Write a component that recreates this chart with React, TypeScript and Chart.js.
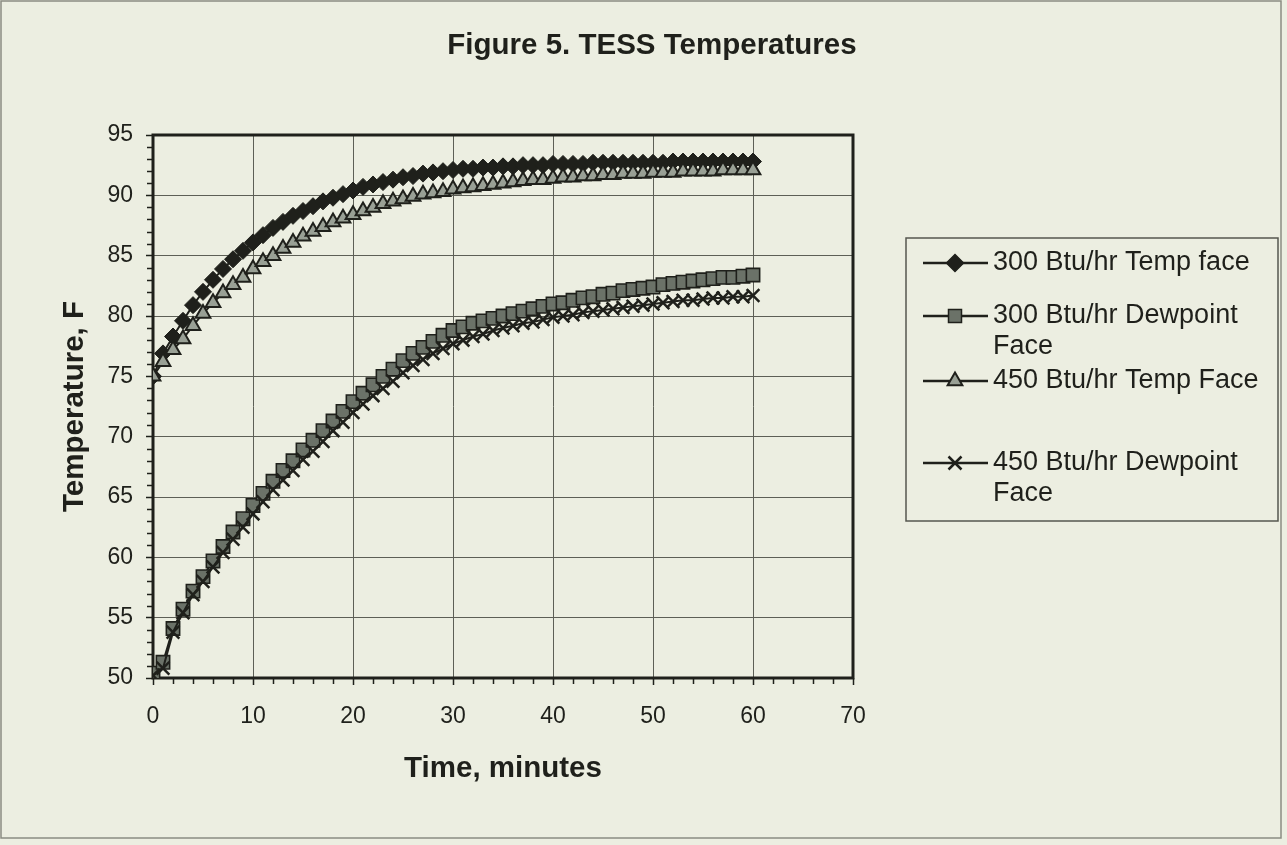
import React, { useEffect, useRef } from "react";
import { Chart, registerables } from "chart.js";

Chart.register(...registerables);

// ---------- data ----------
const minutes = [
  0, 1, 2, 3, 4, 5, 6, 7, 8, 9, 10, 11, 12, 13, 14, 15, 16, 17, 18, 19, 20,
  21, 22, 23, 24, 25, 26, 27, 28, 29, 30, 31, 32, 33, 34, 35, 36, 37, 38, 39, 40,
  41, 42, 43, 44, 45, 46, 47, 48, 49, 50, 51, 52, 53, 54, 55, 56, 57, 58, 59, 60,
];

const temp300 = [
  75.0, 76.9, 78.3, 79.6, 80.9, 82.0, 83.0, 83.9, 84.7, 85.4, 86.1,
  86.7, 87.3, 87.8, 88.3, 88.7, 89.1, 89.5, 89.8, 90.1, 90.4,
  90.7, 90.9, 91.1, 91.3, 91.5, 91.6, 91.8, 91.9, 92.0, 92.1,
  92.2, 92.2, 92.3, 92.3, 92.4, 92.4, 92.5, 92.5, 92.5, 92.6,
  92.6, 92.6, 92.6, 92.7, 92.7, 92.7, 92.7, 92.7, 92.7, 92.7,
  92.7, 92.8, 92.8, 92.8, 92.8, 92.8, 92.8, 92.8, 92.8, 92.8,
];

const dew300 = [
  50.4, 51.3, 54.1, 55.7, 57.2, 58.4, 59.7, 60.9, 62.1, 63.2, 64.3,
  65.3, 66.3, 67.2, 68.0, 68.9, 69.7, 70.5, 71.3, 72.1, 72.9,
  73.6, 74.3, 75.0, 75.6, 76.3, 76.9, 77.4, 77.9, 78.4, 78.8,
  79.1, 79.4, 79.6, 79.8, 80.0, 80.2, 80.4, 80.6, 80.8, 81.0,
  81.1, 81.3, 81.5, 81.6, 81.8, 81.9, 82.1, 82.2, 82.3, 82.4,
  82.6, 82.7, 82.8, 82.9, 83.0, 83.1, 83.2, 83.2, 83.3, 83.4,
];

const temp450 = [
  75.0, 76.2, 77.2, 78.1, 79.2, 80.2, 81.1, 81.9, 82.6, 83.2, 83.9,
  84.5, 85.0, 85.6, 86.1, 86.6, 87.0, 87.4, 87.8, 88.1, 88.4,
  88.7, 89.0, 89.3, 89.5, 89.7, 89.9, 90.1, 90.2, 90.3, 90.5,
  90.6, 90.7, 90.8, 90.9, 91.0, 91.1, 91.2, 91.3, 91.3, 91.4,
  91.5, 91.5, 91.6, 91.6, 91.7, 91.7, 91.8, 91.8, 91.8, 91.9,
  91.9, 91.9, 92.0, 92.0, 92.0, 92.0, 92.1, 92.1, 92.1, 92.1,
];

const dew450 = [
  50.2, 50.8, 53.8, 55.4, 56.9, 58.0, 59.2, 60.4, 61.5, 62.5, 63.6,
  64.6, 65.6, 66.4, 67.2, 68.1, 68.8, 69.6, 70.5, 71.2, 72.0,
  72.7, 73.4, 74.0, 74.6, 75.3, 75.9, 76.4, 76.9, 77.3, 77.7,
  78.0, 78.3, 78.5, 78.8, 79.0, 79.2, 79.4, 79.5, 79.7, 79.9,
  80.0, 80.1, 80.3, 80.4, 80.5, 80.6, 80.7, 80.8, 80.9, 81.0,
  81.1, 81.2, 81.3, 81.3, 81.4, 81.5, 81.5, 81.6, 81.6, 81.7,
];

const xTicks = [0, 10, 20, 30, 40, 50, 60, 70];
const yTicks = [50, 55, 60, 65, 70, 75, 80, 85, 90, 95];

const seriesNames = [
  ["300 Btu/hr Temp face"],
  ["300 Btu/hr Dewpoint", "Face"],
  ["450 Btu/hr Temp Face"],
  ["450 Btu/hr Dewpoint", "Face"],
];

const titleText = "Figure 5. TESS Temperatures";
const xTitle = "Time, minutes";
const yTitle = "Temperature, F";

// ---------- style ----------
const FONT = '"Liberation Sans", Arial, sans-serif';
const INK = "#1f201b";
const BG = "#eceee1";
const GRID = "#5d5f56";
const SQUARE_FILL = "#6b7268";
const TRI_FILL = "#99a095";

function drawMarker(ctx: CanvasRenderingContext2D, kind: number, x: number, y: number) {
  ctx.save();
  ctx.lineWidth = 1.5;
  ctx.strokeStyle = INK;
  ctx.beginPath();
  if (kind === 0) {
    const r = 8.5;
    ctx.moveTo(x, y - r);
    ctx.lineTo(x + r, y);
    ctx.lineTo(x, y + r);
    ctx.lineTo(x - r, y);
    ctx.closePath();
    ctx.fillStyle = INK;
    ctx.fill();
    ctx.stroke();
  } else if (kind === 1) {
    const h = 6.5;
    ctx.rect(x - h, y - h, 2 * h, 2 * h);
    ctx.fillStyle = SQUARE_FILL;
    ctx.fill();
    ctx.stroke();
  } else if (kind === 2) {
    const r = 8.5;
    ctx.lineWidth = 2;
    ctx.moveTo(x, y - r);
    ctx.lineTo(x + r * 0.866, y + r / 2);
    ctx.lineTo(x - r * 0.866, y + r / 2);
    ctx.closePath();
    ctx.fillStyle = TRI_FILL;
    ctx.fill();
    ctx.stroke();
  } else {
    const h = 6.5;
    ctx.lineWidth = 2.5;
    ctx.moveTo(x - h, y - h);
    ctx.lineTo(x + h, y + h);
    ctx.moveTo(x + h, y - h);
    ctx.lineTo(x - h, y + h);
    ctx.stroke();
  }
  ctx.restore();
}

const decorPlugin = {
  id: "decor",
  beforeDraw(chart: any) {
    const ctx = chart.ctx as CanvasRenderingContext2D;
    ctx.save();
    ctx.fillStyle = BG;
    ctx.fillRect(0, 0, chart.width, chart.height);
    ctx.strokeStyle = "#8a8c82";
    ctx.lineWidth = 1.5;
    ctx.strokeRect(1, 1, chart.width - 7, chart.height - 8);
    ctx.restore();
  },
  beforeDatasetsDraw(chart: any) {
    const ctx = chart.ctx as CanvasRenderingContext2D;
    const a = chart.chartArea;
    const xs = chart.scales.x;
    const ys = chart.scales.y;
    ctx.save();
    ctx.strokeStyle = INK;
    ctx.lineWidth = 1.5;
    ctx.beginPath();
    for (let v = 51; v < 95; v++) {
      if (v % 5 === 0) continue;
      const py = Math.round(ys.getPixelForValue(v)) + 0.5;
      ctx.moveTo(a.left - 6, py);
      ctx.lineTo(a.left, py);
    }
    for (let v = 2; v < 70; v += 2) {
      if (v % 10 === 0) continue;
      const px = Math.round(xs.getPixelForValue(v)) + 0.5;
      ctx.moveTo(px, a.bottom);
      ctx.lineTo(px, a.bottom + 6);
    }
    ctx.stroke();
    ctx.lineWidth = 3;
    ctx.strokeRect(a.left, a.top, a.right - a.left, a.bottom - a.top);
    ctx.restore();
  },
  afterDraw(chart: any) {
    const ctx = chart.ctx as CanvasRenderingContext2D;
    const a = chart.chartArea;
    ctx.save();
    ctx.fillStyle = INK;
    ctx.textAlign = "center";
    ctx.textBaseline = "middle";
    ctx.font = `bold 29.5px ${FONT}`;
    ctx.fillText(titleText, 652, 46);
    ctx.font = `bold 29.5px ${FONT}`;
    ctx.fillText(xTitle, (a.left + a.right) / 2, 769);
    ctx.save();
    ctx.translate(75, (a.top + a.bottom) / 2);
    ctx.rotate(-Math.PI / 2);
    ctx.fillText(yTitle, 0, 0);
    ctx.restore();

    // legend box
    ctx.strokeStyle = "#55574f";
    ctx.lineWidth = 1.5;
    ctx.strokeRect(906, 238, 372, 283);
    const rowY = [263, 316, 381, 463];
    ctx.font = `27px ${FONT}`;
    ctx.textAlign = "left";
    seriesNames.forEach((lines, i) => {
      const y = rowY[i];
      ctx.strokeStyle = INK;
      ctx.lineWidth = 2.5;
      ctx.beginPath();
      ctx.moveTo(923, y);
      ctx.lineTo(988, y);
      ctx.stroke();
      drawMarker(ctx, i, 955, y);
      ctx.fillStyle = INK;
      lines.forEach((t, j) => ctx.fillText(t, 993, y + j * 31));
    });
    ctx.restore();
  },
};

export default function App() {
  const ref = useRef<HTMLCanvasElement | null>(null);

  useEffect(() => {
    const canvas = ref.current;
    if (!canvas) return;
    const mk = (vals: number[]) => minutes.map((m, i) => ({ x: m, y: vals[i] }));
    const chart = new Chart(canvas, {
      type: "line",
      data: {
        datasets: [
          {
            label: seriesNames[0].join(" "),
            data: mk(temp300),
            borderColor: INK,
            borderWidth: 2,
            pointStyle: "rectRot",
            pointRadius: 8.5,
            pointBackgroundColor: INK,
            pointBorderColor: INK,
            pointBorderWidth: 1,
            order: 4,
          },
          {
            label: seriesNames[1].join(" "),
            data: mk(dew300),
            borderColor: INK,
            borderWidth: 2,
            pointStyle: "rect",
            pointRadius: 9.4,
            pointBackgroundColor: SQUARE_FILL,
            pointBorderColor: INK,
            pointBorderWidth: 1.6,
            order: 3,
          },
          {
            label: seriesNames[2].join(" "),
            data: mk(temp450),
            borderColor: INK,
            borderWidth: 2,
            pointStyle: "triangle",
            pointRadius: 8.5,
            pointBackgroundColor: TRI_FILL,
            pointBorderColor: INK,
            pointBorderWidth: 2,
            order: 2,
          },
          {
            label: seriesNames[3].join(" "),
            data: mk(dew450),
            borderColor: INK,
            borderWidth: 2,
            pointStyle: "crossRot",
            pointRadius: 9,
            pointBorderColor: INK,
            pointBorderWidth: 2.5,
            order: 1,
          },
        ],
      },
      options: {
        responsive: false,
        animation: false,
        layout: { padding: { left: 0, top: 135, right: 434, bottom: 0 } },
        plugins: { legend: { display: false }, tooltip: { enabled: false }, title: { display: false } },
        elements: { line: { tension: 0 } },
        scales: {
          x: {
            type: "linear",
            min: 0,
            max: 70,
            afterFit: (s: any) => {
              s.height = 167;
            },
            afterBuildTicks: (s: any) => {
              s.ticks = xTicks.map((v) => ({ value: v }));
            },
            grid: { color: GRID, lineWidth: 1, tickLength: 7, tickColor: INK, tickWidth: 1.5 },
            border: { display: false },
            ticks: { font: { family: FONT, size: 23 }, color: INK, padding: 18, maxRotation: 0, autoSkip: false },
          },
          y: {
            type: "linear",
            min: 50,
            max: 95,
            afterFit: (s: any) => {
              s.width = 153;
            },
            afterBuildTicks: (s: any) => {
              s.ticks = yTicks.map((v) => ({ value: v }));
            },
            grid: { color: GRID, lineWidth: 1, tickLength: 7, tickColor: INK, tickWidth: 1.5 },
            border: { display: false },
            ticks: { font: { family: FONT, size: 23 }, color: INK, padding: 13, autoSkip: false },
          },
        },
      },
      plugins: [decorPlugin],
    });
    return () => chart.destroy();
  }, []);

  return (
    <div style={{ position: "fixed", left: 0, top: 0, width: 1287, height: 845, background: BG }}>
      <canvas ref={ref} width={1287} height={845} />
    </div>
  );
}
